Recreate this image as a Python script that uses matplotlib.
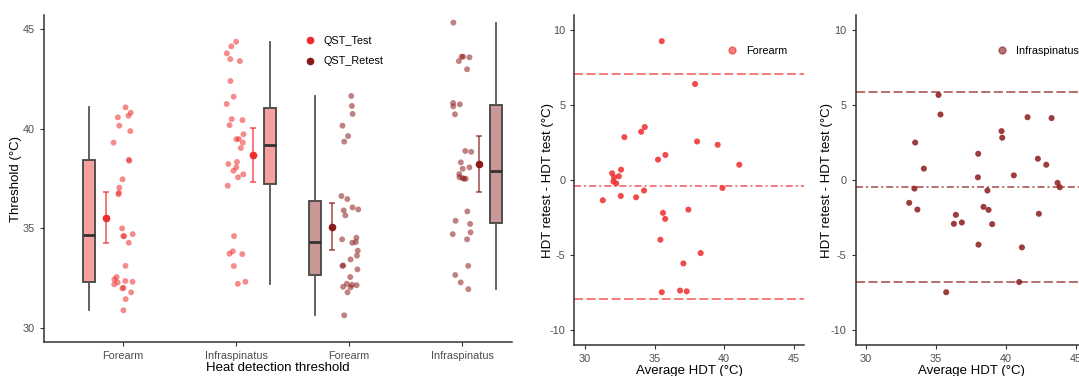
import numpy as np
import matplotlib.pyplot as plt
from matplotlib.lines import Line2D

plt.rcParams['font.family'] = ['Liberation Sans', 'DejaVu Sans']
plt.rcParams['axes.unicode_minus'] = False

# Данные: пороги тепловой чувствительности (°C)
categories = ["Forearm", "Infraspinatus", "Forearm", "Infraspinatus"]
sessions = ["QST_Test", "QST_Test", "QST_Retest", "QST_Retest"]

test_forearm = [41.07, 40.80, 40.65, 40.57, 40.15, 39.88, 39.30, 38.39, 38.44, 37.46,
                37.04, 36.79, 36.71, 35.00, 34.61, 34.61, 34.71, 34.28, 33.12, 32.32,
                32.29, 32.56, 32.36, 32.44, 32.19, 32.02, 31.99, 31.79, 31.45, 30.89]
test_infra = [44.36, 44.13, 43.78, 43.49, 43.39, 42.39, 41.60, 41.24, 40.43, 40.18,
              40.48, 39.72, 39.47, 39.30, 39.48, 39.03, 38.23, 38.33, 38.06, 37.71,
              37.89, 37.56, 37.14, 34.61, 33.85, 33.73, 33.71, 33.11, 32.32, 32.22]
retest_forearm = [41.64, 41.14, 40.74, 40.15, 39.63, 39.35, 36.47, 36.62, 35.95, 35.90,
                  36.05, 35.65, 34.53, 34.28, 34.45, 34.31, 33.88, 33.63, 33.44, 33.12,
                  33.14, 32.94, 32.56, 32.07, 32.15, 32.17, 32.04, 32.22, 31.79, 30.64]
retest_infra = [45.32, 43.58, 43.61, 43.61, 43.39, 42.98, 41.29, 41.22, 41.12, 40.72,
                38.84, 38.88, 38.31, 37.99, 38.06, 37.72, 37.49, 37.49, 37.56, 37.52,
                35.85, 35.22, 35.38, 34.80, 34.71, 34.45, 33.12, 32.66, 32.29, 31.95]

# Bland-Altman: среднее и разность (retest - test)
forearm_avg = [35.52, 37.91, 34.30, 34.04, 32.84, 38.05, 39.53, 35.78, 35.25, 41.08,
               32.60, 31.96, 32.44, 32.10, 32.05, 32.25, 39.87, 34.25, 32.58, 33.68,
               31.29, 37.43, 35.61, 35.76, 35.42, 38.31, 37.07, 35.52, 36.83, 37.31]
forearm_diff = [9.26, 6.40, 3.53, 3.22, 2.86, 2.57, 2.35, 1.67, 1.36, 1.02,
                0.69, 0.45, 0.25, 0.18, -0.10, -0.22, -0.53, -0.70, -1.06, -1.15,
                -1.35, -1.97, -2.19, -2.59, -3.98, -4.87, -5.56, -7.48, -7.37, -7.42]
infra_avg = [35.18, 35.32, 41.55, 43.27, 39.69, 39.74, 33.51, 38.02, 42.29, 42.89,
             34.13, 38.00, 40.57, 43.70, 43.86, 33.46, 38.68, 33.08, 33.67, 38.40,
             38.76, 36.42, 42.36, 36.28, 36.85, 39.02, 38.04, 41.15, 40.95, 35.73]
infra_diff = [5.67, 4.37, 4.19, 4.13, 3.26, 2.82, 2.50, 1.75, 1.42, 1.02,
              0.76, 0.18, 0.31, -0.19, -0.48, -0.57, -0.70, -1.52, -1.97, -1.79,
              -1.99, -2.32, -2.25, -2.92, -2.83, -2.94, -4.31, -4.49, -6.80, -7.48]

test_col = "#EE2C2C"
retest_col = "#8B1A1A"
spine_col = "#333333"
tick_col = "#4D4D4D"


def style_axes(ax):
    for s in ["top", "right"]:
        ax.spines[s].set_visible(False)
    for s in ["left", "bottom"]:
        ax.spines[s].set_color(spine_col)
        ax.spines[s].set_linewidth(1.1)
    ax.tick_params(labelsize=7.8, labelcolor=tick_col, color=spine_col, length=3, width=0.8)


fig = plt.figure(figsize=(10.79, 3.76), dpi=100)

# --- Панель 1: raincloud-подобный график ---
ax1 = fig.add_axes([0.0408, 0.0904, 0.4337, 0.8696])
groups = [test_forearm, test_infra, retest_forearm, retest_infra]
colors = [test_col, test_col, retest_col, retest_col]
side = [-1, 1, -1, 1]  # бокс слева для Forearm, справа для Infraspinatus
rng = np.random.default_rng(7)

for i, (vals, col, sd) in enumerate(zip(groups, colors, side)):
    pos = i + 1
    vals = np.array(vals)
    jit = rng.uniform(-0.085, 0.085, len(vals))
    ax1.scatter(pos + jit, vals, s=18, color=col, alpha=0.55, edgecolors='none', zorder=3)

    fc = list(plt.matplotlib.colors.to_rgba(col))
    fc[3] = 0.45
    ax1.boxplot(vals, positions=[pos + 0.30 * sd], widths=0.106, patch_artist=True,
                showfliers=False, whis=1.5, manage_ticks=False,
                boxprops=dict(facecolor=fc, edgecolor='#444444', linewidth=1.3),
                medianprops=dict(color='#333333', linewidth=2.0),
                whiskerprops=dict(color='#555555', linewidth=1.3),
                capprops=dict(linewidth=0))

    m = vals.mean()
    ci = 2.045 * vals.std(ddof=1) / np.sqrt(len(vals))
    ax1.errorbar(pos + 0.15 * sd, m, yerr=ci, fmt='none', ecolor=col, alpha=0.8,
                 elinewidth=1.1, capsize=2.5, capthick=1.1, zorder=4)
    ax1.plot(pos + 0.15 * sd, m, 'o', color=col, ms=4.5, zorder=5)

ax1.set_xlim(0.30, 4.44)
ax1.set_ylim(29.3, 45.7)
ax1.set_xticks([1, 2, 3, 4])
ax1.set_xticklabels(categories)
ax1.set_yticks([30, 35, 40, 45])
ax1.set_xlabel("Heat detection threshold", fontsize=9.5, labelpad=1)
ax1.set_ylabel("Threshold (°C)", fontsize=9.5, labelpad=0.5)
style_axes(ax1)

handles = [Line2D([], [], marker='o', ls='', color=test_col, ms=4.5),
           Line2D([], [], marker='o', ls='', color=retest_col, ms=4.5)]
ax1.legend(handles, ["QST_Test", "QST_Retest"], frameon=False, fontsize=7.8,
           loc='upper left', bbox_to_anchor=(0.556, 0.937), handlelength=1.0,
           handletextpad=0.8, labelspacing=1.0, borderpad=0, borderaxespad=0)


# --- Панели 2 и 3: Bland-Altman ---
def bland_altman(ax, avg, diff, col, label, leg_x, pad):
    avg = np.array(avg)
    diff = np.array(diff)
    ax.scatter(avg, diff, s=19, color=col, alpha=0.85, edgecolors='none', zorder=3)
    md = diff.mean()
    sdv = diff.std(ddof=1)
    ax.axhline(md, color=col, alpha=0.8, lw=1.1, ls=(0, (4.6, 2.0, 1.3, 2.0)))
    ax.axhline(md + 1.96 * sdv, color=col, alpha=0.8, lw=1.1, ls=(0, (5.9, 2.3)))
    ax.axhline(md - 1.96 * sdv, color=col, alpha=0.8, lw=1.1, ls=(0, (5.9, 2.3)))
    ax.set_xlim(29.25, 45.75)
    ax.set_ylim(-11, 11)
    ax.set_xticks([30, 35, 40, 45])
    ax.set_yticks([-10, -5, 0, 5, 10])
    ax.set_xlabel("Average HDT (°C)", fontsize=9.5, labelpad=1)
    ax.set_ylabel("HDT retest - HDT test (°C)", fontsize=9.5, labelpad=pad)
    style_axes(ax)
    h = [Line2D([], [], marker='o', ls='', color=col, alpha=0.6, ms=5)]
    ax.legend(h, [label], frameon=False, fontsize=7.8, loc='center left',
              bbox_to_anchor=(leg_x, 0.892), handlelength=1.0, handletextpad=0.8,
              borderpad=0, borderaxespad=0)


ax2 = fig.add_axes([0.5323, 0.0824, 0.2132, 0.8776])
bland_altman(ax2, forearm_avg, forearm_diff, test_col, "Forearm", 0.662, -3)

ax3 = fig.add_axes([0.7930, 0.0824, 0.2137, 0.8776])
bland_altman(ax3, infra_avg, infra_diff, retest_col, "Infraspinatus", 0.612, -1.5)

fig.savefig("out.png", dpi=100)
